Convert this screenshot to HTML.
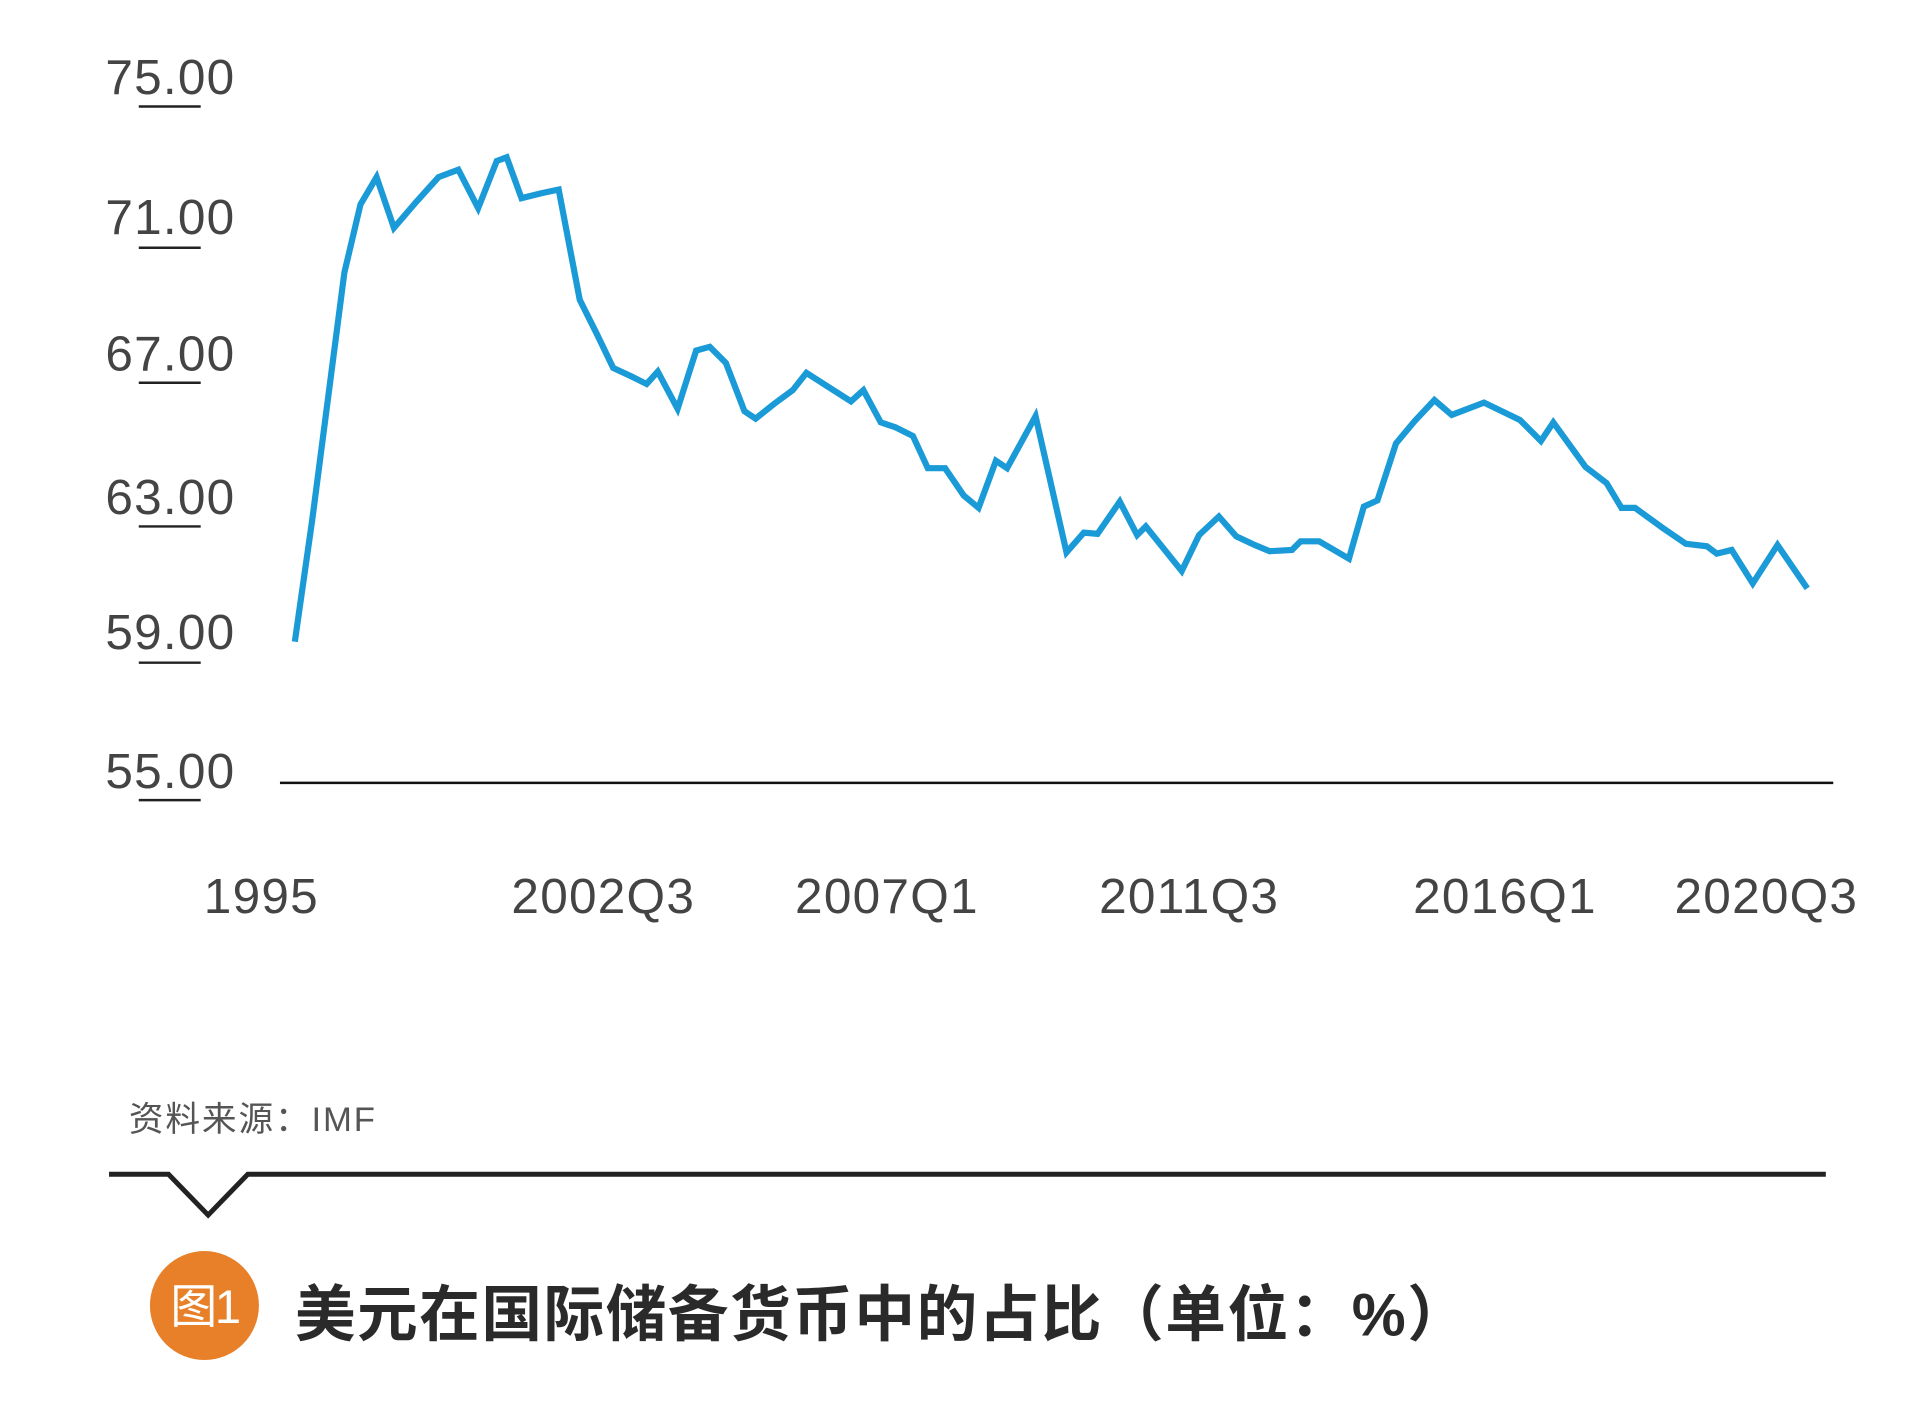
<!DOCTYPE html>
<html><head><meta charset="utf-8"><style>
html,body{margin:0;padding:0;background:#fff;width:1920px;height:1420px;overflow:hidden}
svg{display:block}
.yl{font-family:"Liberation Sans","Noto Sans CJK SC",sans-serif;font-size:40px;fill:#444;letter-spacing:1px}
.xl{font-family:"Liberation Sans","Noto Sans CJK SC",sans-serif;font-size:40px;fill:#444;text-anchor:middle;letter-spacing:1px}
</style></head><body>
<svg width="1920" height="1420" viewBox="0 0 1550 1146.4" xmlns="http://www.w3.org/2000/svg">
<g class="yl">
<text x="85" y="76">75.00</text>
<text x="85" y="189">71.00</text>
<text x="85" y="299">67.00</text>
<text x="85" y="415">63.00</text>
<text x="85" y="524">59.00</text>
<text x="85" y="636">55.00</text>
</g>
<g stroke="#222" stroke-width="2">
<line x1="112" y1="86" x2="162" y2="86"/>
<line x1="112" y1="200" x2="162" y2="200"/>
<line x1="112" y1="309" x2="162" y2="309"/>
<line x1="112" y1="425" x2="162" y2="425"/>
<line x1="112" y1="535" x2="162" y2="535"/>
<line x1="112" y1="646" x2="162" y2="646"/>
</g>
<line x1="226" y1="632" x2="1480" y2="632" stroke="#111" stroke-width="2"/>
<g class="xl">
<text x="211" y="737">1995</text>
<text x="487" y="737">2002Q3</text>
<text x="716" y="737">2007Q1</text>
<text x="960" y="737">2011Q3</text>
<text x="1215" y="737">2016Q1</text>
<text x="1426" y="737">2020Q3</text>
</g>
<polyline fill="none" stroke="#1a9ad6" stroke-width="5" stroke-linejoin="miter" points="238,518 252,420 265,320 278,220 291,165 304,143 318,184 336,163 354,143 370,137 386,168 401,130 409,127 421,160 437,156 451,153 468,242 482,270 495,297 510,304 522,310 531,300 547,330 562,283 573,280 586,293 601,332 610,338 625,326 640,315 651,301 665,310 687,324 697,315 711,341 723,345 737,352 749,378 763,378 778,400 790,410 804,372 813,378 836,336 861,446 875,430 886,431 904,405 918,432 925,425 954,461 968,432 984,417 998,433 1013,440 1025,445 1043,444 1050,437 1065,437 1089,451 1101,409 1112,404 1127,358 1142,340 1158,323 1172,335 1198,325 1227,339 1244,356 1254,341 1280,377 1297,390 1309,410 1320,410 1342,426 1361,439 1378,441 1386,447 1398,444 1415,471 1435,440 1459,475"/>
<text x="104" y="913" font-family="'Liberation Sans','Noto Sans CJK SC',sans-serif" font-size="28" fill="#555" letter-spacing="1.5">资料来源：IMF</text>
<polyline fill="none" stroke="#222" stroke-width="4" points="88,948 136,948 168,981 200,948 1474,948"/>
<circle cx="165" cy="1054" r="44" fill="#e8802a"/>
<text x="165" y="1068" text-anchor="middle" font-family="'Liberation Sans','Noto Sans CJK SC',sans-serif" font-size="38" fill="#fff" letter-spacing="-2">图1</text>
<text x="238" y="1078" font-family="'Liberation Sans','Noto Sans CJK SC',sans-serif" font-size="49" font-weight="bold" fill="#2a2a2a" letter-spacing="1.2">美元在国际储备货币中的占比（单位：%）</text>
</svg>
</body></html>
